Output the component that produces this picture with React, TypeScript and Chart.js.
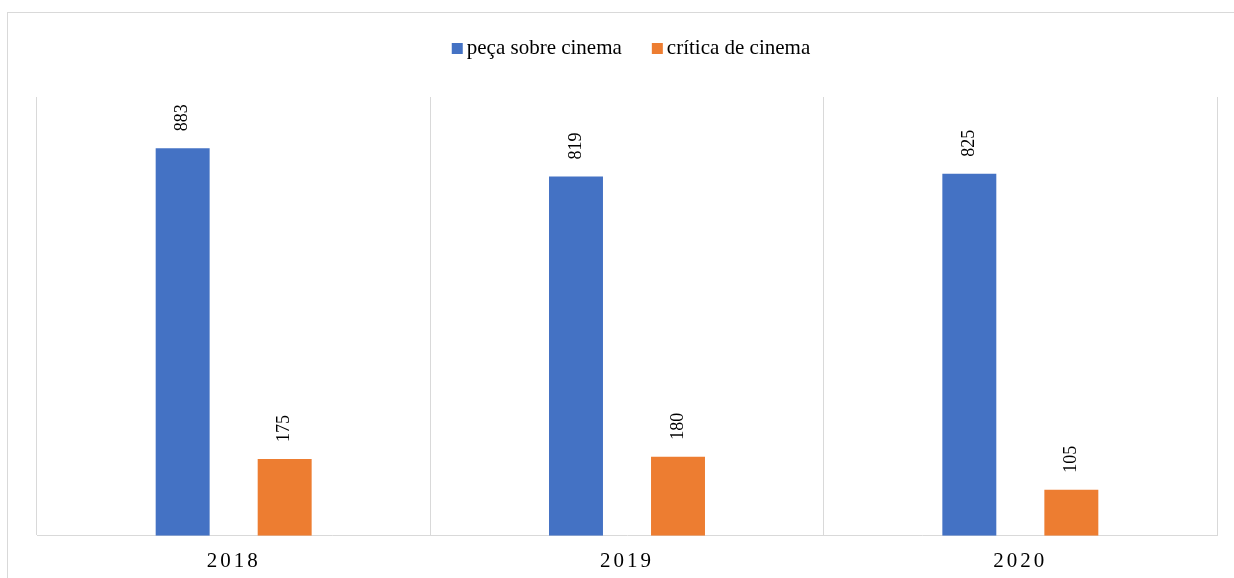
import React, { useEffect, useRef } from "react";
import { Chart, registerables } from "chart.js";

Chart.register(...registerables);

const categories = ["2018", "2019", "2020"];
const pecaSobreCinema = [883, 819, 825];
const criticaDeCinema = [175, 180, 105];
const seriesLabels = ["peça sobre cinema", "crítica de cinema"];
const seriesColors = ["#4472C4", "#ED7D31"];

const FONT = '"Liberation Serif", "Times New Roman", serif';

const tickSpacingPlugin = {
  id: "tickSpacing",
  beforeDraw(chart: any) {
    (chart.ctx as any).letterSpacing = "3px";
  },
  beforeDatasetsDraw(chart: any) {
    (chart.ctx as any).letterSpacing = "0px";
  },
};

const dataLabelPlugin = {
  id: "barValueLabels",
  afterDatasetsDraw(chart: any) {
    const ctx = chart.ctx as CanvasRenderingContext2D;
    ctx.save();
    (ctx as any).letterSpacing = "0px";
    ctx.font = `18px ${FONT}`;
    ctx.fillStyle = "#000000";
    ctx.textAlign = "left";
    ctx.textBaseline = "middle";
    chart.data.datasets.forEach((ds: any, di: number) => {
      const meta = chart.getDatasetMeta(di);
      meta.data.forEach((el: any, i: number) => {
        const v = ds.data[i];
        ctx.save();
        ctx.translate(el.x, el.y - 17);
        ctx.rotate(-Math.PI / 2);
        ctx.fillText(String(v), 0, 0);
        ctx.restore();
      });
    });
    ctx.restore();
  },
};

const customLegendPlugin = {
  id: "customLegend",
  afterDraw(chart: any) {
    const ctx = chart.ctx as CanvasRenderingContext2D;
    ctx.save();
    (ctx as any).letterSpacing = "0px";
    ctx.font = `21px ${FONT}`;
    ctx.textBaseline = "middle";
    ctx.textAlign = "left";
    const box = 11;
    const gapText = 4;
    const gapItem = 30;
    const items = chart.data.datasets.map((ds: any) => ({
      text: ds.label as string,
      color: ds.backgroundColor as string,
      w: ctx.measureText(ds.label).width,
    }));
    const total =
      items.reduce((s: number, it: any) => s + box + gapText + it.w, 0) +
      gapItem * (items.length - 1);
    const center = 623;
    let x = center - total / 2;
    const boxTop = 30;
    items.forEach((it: any) => {
      ctx.fillStyle = it.color;
      ctx.fillRect(x, boxTop, box, box);
      x += box + gapText;
      ctx.fillStyle = "#000000";
      ctx.fillText(it.text, x, boxTop + box / 2);
      x += it.w + gapItem;
    });
    ctx.restore();
  },
};

export default function App() {
  const canvasRef = useRef<HTMLCanvasElement | null>(null);

  useEffect(() => {
    if (!canvasRef.current) return;
    const chart = new Chart(canvasRef.current, {
      type: "bar",
      data: {
        labels: categories,
        datasets: [
          {
            label: seriesLabels[0],
            data: pecaSobreCinema,
            backgroundColor: seriesColors[0],
            categoryPercentage: 0.5187,
            barPercentage: 0.529,
          },
          {
            label: seriesLabels[1],
            data: criticaDeCinema,
            backgroundColor: seriesColors[1],
            categoryPercentage: 0.5187,
            barPercentage: 0.529,
          },
        ],
      },
      options: {
        animation: false,
        responsive: true,
        maintainAspectRatio: false,
        layout: { padding: { top: 84, left: 29, right: 17, bottom: -9 } },
        plugins: {
          legend: { display: false },
          tooltip: { enabled: false },
        },
        scales: {
          x: {
            grid: {
              display: true,
              offset: true,
              color: "#d9d9d9",
              lineWidth: 1,
              drawTicks: false,
            },
            border: { display: true, color: "#d9d9d9", width: 1 },
            ticks: {
              color: "#000000",
              font: { family: FONT, size: 21 },
              padding: 13,
              autoSkip: false,
              maxRotation: 0,
            },
          },
          y: {
            display: false,
            min: 0,
            max: 1000,
          },
        },
      },
      plugins: [tickSpacingPlugin, dataLabelPlugin, customLegendPlugin],
    });
    return () => chart.destroy();
  }, []);

  return (
    <div
      style={{
        position: "absolute",
        left: 7,
        top: 12,
        width: 1227,
        height: 566,
        borderTop: "1px solid #d9d9d9",
        borderLeft: "1px solid #d9d9d9",
        boxSizing: "border-box",
        background: "#ffffff",
      }}
    >
      <div style={{ position: "relative", width: 1226, height: 565 }}>
        <canvas ref={canvasRef} />
      </div>
    </div>
  );
}
